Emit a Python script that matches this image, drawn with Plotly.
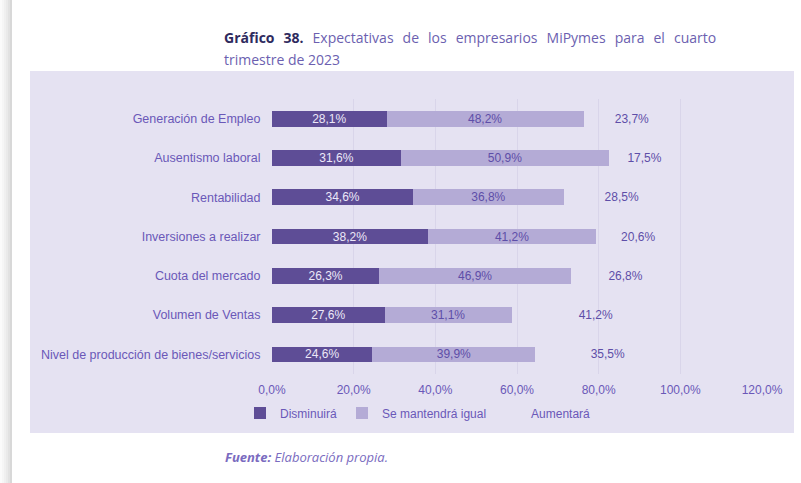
import plotly.graph_objects as go

categories = [
    "Generación de Empleo",
    "Ausentismo laboral",
    "Rentabilidad",
    "Inversiones a realizar",
    "Cuota del mercado",
    "Volumen de Ventas",
    "Nivel de producción de bienes/servicios",
]
disminuira = [28.1, 31.6, 34.6, 38.2, 26.3, 27.6, 24.6]
se_mantendra = [48.2, 50.9, 36.8, 41.2, 46.9, 31.1, 39.9]
aumentara = [23.7, 17.5, 28.5, 20.6, 26.8, 41.2, 35.5]
tick_vals = [0, 20, 40, 60, 80, 100, 120]
tick_text = ["0,0%", "20,0%", "40,0%", "60,0%", "80,0%", "100,0%", "120,0%"]


def fmt(v):
    return f"{v:.1f}".replace(".", ",") + "%"


BG = "#E5E2F2"
DARK = "#5E4D96"
LIGHT = "#B4ABD6"
TXT = "#6A58B8"
FONT = "Liberation Sans, Arial, sans-serif"

fig = go.Figure()
series = [
    ("Disminuirá", disminuira, DARK, "#ECE8F8"),
    ("Se mantendrá igual", se_mantendra, LIGHT, "#5E4EA8"),
    ("Aumentará", aumentara, "rgba(0,0,0,0)", "#5E4EA8"),
]
for name, vals, col, tcol in series:
    fig.add_trace(go.Bar(
        name=name,
        y=categories,
        x=vals,
        orientation="h",
        marker=dict(color=col, line=dict(width=0)),
        text=[fmt(v) for v in vals],
        textposition="inside",
        insidetextanchor="middle",
        constraintext="none",
        textfont=dict(family=FONT, size=12, color=tcol),
        width=0.4,
    ))

L, R, T, B = 272, 39, 99, 109
PW = 801 - L - R
PH = 483 - T - B


def px(x):
    return (x - L) / PW


def py(y):
    return (483 - B - y) / PH


fig.update_layout(
    barmode="stack",
    width=801,
    height=483,
    paper_bgcolor="white",
    plot_bgcolor="rgba(0,0,0,0)",
    margin=dict(l=L, r=R, t=T, b=B, pad=0),
    font=dict(family=FONT, size=12, color=TXT),
    showlegend=True,
    legend=dict(
        orientation="h",
        x=px(240),
        xanchor="left",
        y=py(413),
        yanchor="middle",
        bgcolor="rgba(0,0,0,0)",
        font=dict(family=FONT, size=12, color=TXT),
        traceorder="normal",
        itemwidth=30,
        tracegroupgap=0,
    ),
)

fig.update_xaxes(
    range=[0, 120],
    tickvals=tick_vals,
    ticktext=tick_text,
    showgrid=True,
    gridcolor="#D9D5EA",
    gridwidth=1,
    zeroline=False,
    showline=False,
    ticks="outside",
    ticklen=5,
    tickcolor="rgba(0,0,0,0)",
    tickfont=dict(family=FONT, size=12, color=TXT),
)
fig.update_yaxes(
    categoryorder="array",
    categoryarray=categories,
    autorange="reversed",
    showgrid=False,
    zeroline=False,
    showline=False,
    ticks="outside",
    ticklen=8,
    tickcolor="rgba(0,0,0,0)",
    tickfont=dict(family=FONT, size=12.5, color=TXT),
)

shapes = [
    dict(type="rect", xref="paper", yref="paper", layer="below",
         x0=px(30), x1=px(794), y0=py(433), y1=py(71),
         fillcolor=BG, line=dict(width=0)),
]
# left page shadow
shade = ["#FBFBFB", "#F6F6F6", "#F0F0F0", "#EAEAEA", "#E2E2E2", "#D8D8D8"]
for i, c in enumerate(shade):
    shapes.append(dict(type="rect", xref="paper", yref="paper", layer="below",
                       x0=px(2 * i), x1=px(2 * i + 2),
                       y0=py(483), y1=py(0),
                       fillcolor=c, line=dict(width=0)))
fig.update_layout(shapes=shapes)

TFONT = "Open Sans, Noto Sans, sans-serif"
fig.add_annotation(
    xref="paper", yref="paper", x=px(222), y=py(38),
    xanchor="left", yanchor="middle", showarrow=False, align="left",
    text="<span style='word-spacing:5.4px'><b><span style='color:#2E2A5E'>Gráfico 38.</span></b> Expectativas de los empresarios MiPymes para el cuarto</span>",
    font=dict(family=TFONT, size=14, color="#6C5FB0"),
)
fig.add_annotation(
    xref="paper", yref="paper", x=px(222), y=py(60),
    xanchor="left", yanchor="middle", showarrow=False, align="left",
    text="trimestre de 2023",
    font=dict(family=TFONT, size=14, color="#6C5FB0"),
)
fig.add_annotation(
    xref="paper", yref="paper", x=px(223), y=py(457),
    xanchor="left", yanchor="middle", showarrow=False, align="left",
    text="<b><i>Fuente:</i></b> <i>Elaboración propia.</i>",
    font=dict(family=TFONT, size=13, color="#7A6BC0"),
)

fig.write_html("out.html", config={"displayModeBar": False},
               post_script="document.body.style.margin='0px';")
